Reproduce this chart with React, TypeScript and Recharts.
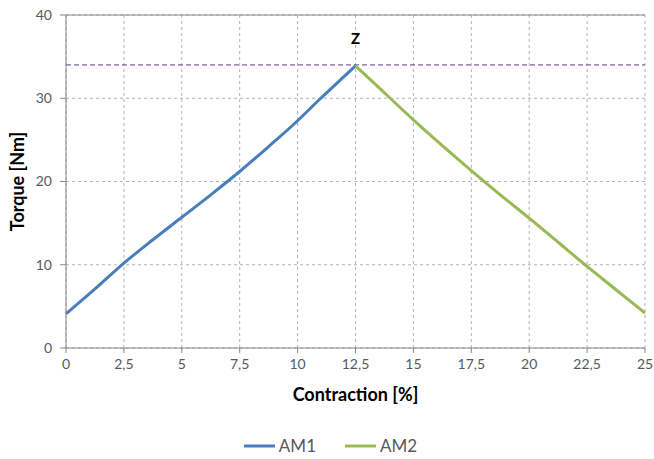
import React from "react";
import {
  LineChart,
  Line,
  XAxis,
  YAxis,
  CartesianGrid,
  Legend,
  ReferenceLine,
  ReferenceDot,
} from "recharts";

// contraction [%] and torque [Nm]
const am1X = [0, 1.25, 2.5, 3.75, 5, 6.25, 7.5, 8.75, 10, 11, 12, 12.5];
const am1Y = [4.1, 7.1, 10.2, 13.0, 15.7, 18.4, 21.2, 24.2, 27.3, 30.0, 32.6, 33.9];
const am2X = [12.5, 13, 14, 15, 16.25, 17.5, 18.75, 20, 21.25, 22.5, 23.75, 25];
const am2Y = [33.9, 32.6, 30.0, 27.4, 24.3, 21.3, 18.4, 15.6, 12.7, 9.8, 7.0, 4.2];

const xTicks = [0, 2.5, 5, 7.5, 10, 12.5, 15, 17.5, 20, 22.5, 25];
const yTicks = [0, 10, 20, 30, 40];
const zLevel = 34;

const am1 = am1X.map((x, i) => ({ x, am1: am1Y[i] }));
const am2 = am2X.map((x, i) => ({ x, am2: am2Y[i] }));

const font = "Lato, 'Open Sans', sans-serif";
const axisGrey = "#868686";
const textGrey = "#595959";

// excel-like legend: line swatch then label, wide gap between items
const renderLegend = (props: any) => {
  const { payload = [] } = props;
  return (
    <div style={{ display: "flex", justifyContent: "center", alignItems: "center", paddingLeft: 16 }}>
      {payload.map((entry: any, i: number) => (
        <div
          key={entry.value}
          style={{ display: "flex", alignItems: "center", marginLeft: i > 0 ? 29 : 0 }}
        >
          <svg width={31} height={6} style={{ marginRight: 4 }}>
            <line x1={0} y1={3} x2={31} y2={3} stroke={entry.color} strokeWidth={3} />
          </svg>
          <span style={{ color: textGrey, fontSize: 17, fontFamily: font }}>{entry.value}</span>
        </div>
      ))}
    </div>
  );
};

const App: React.FC = () => {
  return (
    <div style={{ position: "absolute", left: 0, top: 0, width: 654, height: 459, background: "#fff" }}>
      <LineChart
        width={654}
        height={459}
        margin={{ top: 15, right: 9, left: 0, bottom: 0 }}
        style={{ fontFamily: font }}
      >
        <CartesianGrid strokeDasharray="3 3" stroke="#b3b3b3" />
        <XAxis
          type="number"
          dataKey="x"
          domain={[0, 25]}
          ticks={xTicks}
          allowDuplicatedCategory={false}
          tickFormatter={(v) => String(v).replace(".", ",")}
          stroke={axisGrey}
          tickSize={5}
          tickMargin={6}
          height={87}
          tick={{ fill: textGrey, fontSize: 14 }}
          label={{
            value: "Contraction [%]",
            position: "insideTop",
            offset: 40,
            fill: "#000",
            fontSize: 18,
            fontWeight: 700,
          }}
        />
        <YAxis
          domain={[0, 40]}
          ticks={yTicks}
          stroke={axisGrey}
          tickSize={6}
          tickMargin={8}
          width={66}
          tick={{ fill: textGrey, fontSize: 14 }}
          label={{
            value: "Torque [Nm]",
            angle: -90,
            position: "insideLeft",
            offset: 18,
            fill: "#000",
            fontSize: 18,
            fontWeight: 700,
            style: { textAnchor: "middle" },
          }}
        />
        <ReferenceLine y={40} stroke={axisGrey} />
        <ReferenceLine y={zLevel} stroke="#7f63a1" strokeDasharray="5 3" strokeWidth={1.3} />
        <Legend verticalAlign="bottom" height={24} content={renderLegend} />
        <Line
          data={am1}
          dataKey="am1"
          name="AM1"
          type="monotone"
          stroke="#4a7ebb"
          strokeWidth={3}
          dot={false}
          legendType="plainline"
          isAnimationActive={false}
        />
        <Line
          data={am2}
          dataKey="am2"
          name="AM2"
          type="monotone"
          stroke="#98b954"
          strokeWidth={3}
          dot={false}
          legendType="plainline"
          isAnimationActive={false}
        />
        <ReferenceDot
          x={12.5}
          y={zLevel}
          r={0}
          fill="none"
          stroke="none"
          label={{ value: "Z", position: "top", offset: 21, fill: "#000", fontSize: 15, fontWeight: 700 }}
        />
      </LineChart>
    </div>
  );
};

export default App;
